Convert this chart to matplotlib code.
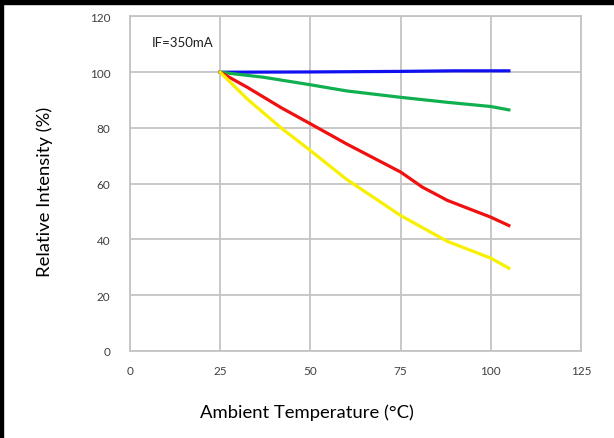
import matplotlib.pyplot as plt
from matplotlib.patches import Rectangle

# readings from the curve (temperature in °C, relative intensity in %)
temp_blue = [25, 50, 75, 90, 105]
blue = [100, 100.1, 100.3, 100.5, 100.5]

temp_green = [25, 37, 50, 60, 75, 88, 100, 105]
green = [100, 98.2, 95.5, 93.3, 91.0, 89.2, 87.7, 86.5]

temp_red = [25, 32.5, 42, 50, 60, 75, 81, 88, 100, 105]
red = [100, 94.6, 87.2, 81.5, 74.3, 64.2, 58.8, 54.0, 48.0, 45.0]

temp_yellow = [25, 32.5, 42, 50, 60, 75, 88, 100, 105]
yellow = [100, 90.4, 79.9, 71.9, 61.6, 48.6, 39.3, 33.3, 29.7]

x_ticks = [0, 25, 50, 75, 100, 125]
y_ticks = [0, 20, 40, 60, 80, 100, 120]

plt.rcParams['font.family'] = ['Lato', 'DejaVu Sans']

fig = plt.figure(figsize=(6.14, 4.39), dpi=100)
ax = fig.add_axes([0.2117, 0.1982, 0.7346, 0.762])

ax.plot(temp_blue, blue, color='#1010f0', lw=2.3)
ax.plot(temp_green, green, color='#10b050', lw=2.3)
ax.plot(temp_red, red, color='#f01010', lw=2.3)
ax.plot(temp_yellow, yellow, color='#f8f000', lw=2.3)

ax.set_xlim(0, 125)
ax.set_ylim(0, 120)
ax.set_xticks(x_ticks)
ax.set_yticks(y_ticks)
ax.grid(True, color='#c4c4c4', lw=1.3)
ax.set_axisbelow(True)
for s in ax.spines.values():
    s.set_color('#c4c4c4')
    s.set_linewidth(1.3)
ax.tick_params(length=0, labelsize=8.5, colors='#404040')
ax.tick_params(axis='y', pad=14)
ax.tick_params(axis='x', pad=10)

ax.set_xlabel('Ambient Temperature (°C)', fontsize=13.3, va='center')
ax.xaxis.set_label_coords(0.392, -0.182)
ax.set_ylabel('Relative Intensity (%)', fontsize=13.3, va='center')
ax.yaxis.set_label_coords(-0.188, 0.478)
ax.text(6, 110.7, 'IF=350mA', fontsize=9.5, va='center', color='#202020')

# black frame on top and left edge of the picture
fig.patches.append(Rectangle((0, 1 - 5 / 439), 1, 5 / 439, transform=fig.transFigure,
                             color='black', zorder=10))
fig.patches.append(Rectangle((0, 0), 3 / 614, 1, transform=fig.transFigure,
                             color='black', zorder=10))

fig.savefig('out.png', dpi=100)
